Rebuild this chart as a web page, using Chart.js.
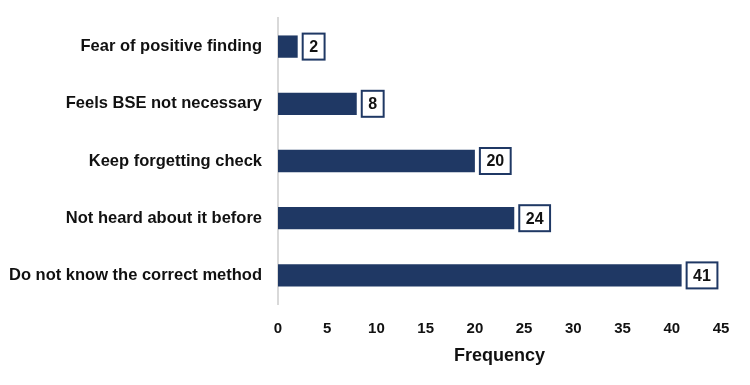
<!DOCTYPE html>
<html><head><meta charset="utf-8">
<script src="https://cdn.jsdelivr.net/npm/chart.js@4"></script>
<style>html,body{margin:0;padding:0;background:#fff}#wrap{width:750px;height:385px}</style>
</head><body><div id="wrap"><canvas id="c"></canvas></div>
<script>
const categories = ["Fear of positive finding","Feels BSE not necessary","Keep forgetting check","Not heard about it before","Do not know the correct method"];
const frequency = [2, 8, 20, 24, 41];
const xTicks = [0,5,10,15,20,25,30,35,40,45];
const NAVY = '#1f3864';
const FONT = '"Liberation Sans", Arial, sans-serif';

const boxLabels = {
  id: 'boxLabels',
  afterDatasetsDraw(chart) {
    const ctx = chart.ctx;
    const meta = chart.getDatasetMeta(0);
    ctx.save();
    ctx.font = 'bold 16px ' + FONT;
    ctx.textBaseline = 'middle';
    ctx.textAlign = 'center';
    meta.data.forEach((el, i) => {
      const txt = String(frequency[i]);
      const tw = ctx.measureText(txt).width;
      const w = Math.max(21, tw + 13), h = 26;
      const x0 = el.x + 5, y0 = el.y - h / 2;
      ctx.fillStyle = '#fff';
      ctx.fillRect(x0, y0, w, h);
      ctx.strokeStyle = NAVY;
      ctx.lineWidth = 2;
      ctx.strokeRect(x0, y0, w, h);
      ctx.fillStyle = '#111';
      ctx.fillText(txt, x0 + w / 2, el.y + 1);
    });
    ctx.restore();
  }
};

new Chart(document.getElementById('c'), {
  type: 'bar',
  data: { labels: categories, datasets: [{ data: frequency, backgroundColor: NAVY, borderWidth: 0, barPercentage: 0.78, categoryPercentage: 0.5 }] },
  options: {
    indexAxis: 'y', responsive: true, maintainAspectRatio: false, animation: false,
    layout: { padding: { top: 18, right: 29, bottom: 20, left: 0 } },
    plugins: { legend: { display: false }, tooltip: { enabled: false } },
    scales: {
      x: {
        min: 0, max: 45,
        afterBuildTicks(s) { s.ticks = xTicks.map(v => ({ value: v })); },
        grid: { display: false, drawTicks: false },
        border: { display: false },
        ticks: { color: '#111', font: { family: FONT, size: 15, weight: 'bold' }, padding: 16 },
        title: { display: true, text: 'Frequency', color: '#111', font: { family: FONT, size: 18, weight: 'bold', lineHeight: 1 }, padding: { top: -7, bottom: 0 } }
      },
      y: {
        afterFit(s) { s.width = 278; s.paddingTop = 0; s.paddingBottom = 0; },
        grid: { display: false, drawTicks: false },
        border: { display: true, color: '#d9d9d9', width: 2 },
        ticks: { color: '#111', font: { family: FONT, size: 16.5, weight: 'bold' }, padding: 16 }
      }
    }
  },
  plugins: [boxLabels]
});
</script></body></html>
